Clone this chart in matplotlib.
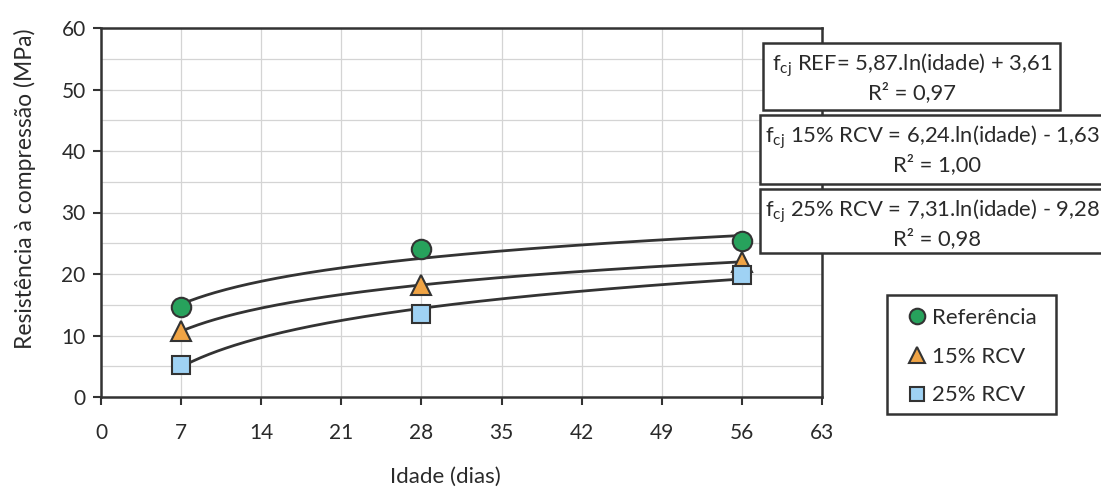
import numpy as np
import matplotlib
matplotlib.use("Agg")
import matplotlib.pyplot as plt
from matplotlib.ticker import MultipleLocator
from matplotlib.patches import Rectangle

plt.rcParams['font.family'] = ['Lato', 'DejaVu Sans']
plt.rcParams['mathtext.fontset'] = 'custom'
plt.rcParams['mathtext.rm'] = 'Lato'
plt.rcParams['mathtext.it'] = 'Lato'

# ---- data ----
idade = [7, 28, 56]
ref = [14.6, 24.0, 25.3]
rcv15 = [10.7, 18.2, 22.0]
rcv25 = [5.2, 13.5, 19.8]
series_labels = ['Referência', '15% RCV', '25% RCV']
eq_texts = [
    (r'f$_{\mathrm{cj}}$ REF= 5,87.ln(idade) + 3,61', 'R² = 0,97'),
    (r'f$_{\mathrm{cj}}$ 15% RCV = 6,24.ln(idade) - 1,63', 'R² = 1,00'),
    (r'f$_{\mathrm{cj}}$ 25% RCV = 7,31.ln(idade) - 9,28', 'R² = 0,98'),
]
xticks = [0, 7, 14, 21, 28, 35, 42, 49, 56, 63]

W, H = 1101, 493
fig = plt.figure(figsize=(W / 100, H / 100), dpi=100)
L, R, T, B = 101, 822, 28, 397
ax = fig.add_axes([L / W, 1 - B / H, (R - L) / W, (B - T) / H])

txtc = '#2a2a2a'
ax.set_xlim(0, 63)
ax.set_ylim(0, 60)
ax.set_xticks(xticks)
ax.yaxis.set_major_locator(MultipleLocator(10))
ax.yaxis.set_minor_locator(MultipleLocator(5))
ax.grid(True, axis='x', which='major', color='#d4d4d4', lw=0.9)
ax.grid(True, axis='y', which='both', color='#d4d4d4', lw=0.9)
ax.set_axisbelow(True)
ax.tick_params(which='major', direction='out', length=6, width=1.5, color='#333333',
               labelsize=15, labelcolor=txtc)
ax.tick_params(axis='x', pad=13)
ax.tick_params(axis='y', pad=5)
ax.tick_params(which='minor', length=0)
for s in ax.spines.values():
    s.set_color('#333333')
    s.set_linewidth(1.8)

ax.set_ylabel('Resistência à compressão (MPa)', fontsize=16.5, color=txtc)
ax.yaxis.set_label_coords(-0.09, 0.565)
ax.set_xlabel('Idade (dias)', fontsize=16, color=txtc)
ax.xaxis.set_label_coords(0.477, -0.19)

styles = [
    dict(marker='o', color='#27a25c', ms=14),
    dict(marker='^', color='#f0a445', ms=14),
    dict(marker='s', color='#9fd2f4', ms=13),
]
handles = []
xs = np.linspace(7, 56, 200)
for ys in [ref, rcv15, rcv25]:
    a, b = np.polyfit(np.log(idade), ys, 1)
    ax.plot(xs, a * np.log(xs) + b, color='#333333', lw=2.0, zorder=3)
for ys, st, lab in zip([ref, rcv15, rcv25], styles, series_labels):
    h, = ax.plot(idade, ys, linestyle='none', marker=st['marker'], ms=st['ms'],
                 markerfacecolor=st['color'], markeredgecolor='#333333', mew=1.5,
                 zorder=4, label=lab, clip_on=False)
    handles.append(h)

# equation boxes (pixel coords)
def px_rect(x0, y0, x1, y1):
    return Rectangle((x0 / W, 1 - y1 / H), (x1 - x0) / W, (y1 - y0) / H,
                     transform=fig.transFigure, fill=True, facecolor='white',
                     edgecolor='#333333', lw=1.8, zorder=5)

boxes = [(763, 43, 1060, 110), (760, 115, 1114, 184), (760, 189, 1114, 253)]
text_x = [772, 765, 765]
for (x0, y0, x1, y1), (l1, l2), tx in zip(boxes, eq_texts, text_x):
    fig.add_artist(px_rect(x0, y0, x1, y1))
    fig.text(tx / W, 1 - (y0 + 22) / H, l1, fontsize=15.8, color=txtc,
             ha='left', va='center', zorder=6)
    fig.text(((x0 + x1) / 2) / W, 1 - (y0 + 50) / H, l2, fontsize=15.8, color=txtc,
             ha='center', va='center', zorder=6)

# legend: frame drawn separately, entries via legend
fig.add_artist(Rectangle((887 / W, 1 - 414 / H), (1056 - 887) / W, (414 - 295) / H,
                         transform=fig.transFigure, fill=True, facecolor='white',
                         edgecolor='#333333', lw=1.8, zorder=5))
leg = fig.legend(handles=handles, loc='upper left',
                 bbox_to_anchor=(909 / W, 1 - 308 / H), fontsize=16,
                 frameon=False, borderaxespad=0, borderpad=0,
                 handlelength=0.7, handletextpad=0.34, labelspacing=0.84,
                 markerscale=0.8)
leg.set_zorder(6)
for t in leg.get_texts():
    t.set_color(txtc)

fig.savefig('out.png', dpi=100, facecolor='white')
